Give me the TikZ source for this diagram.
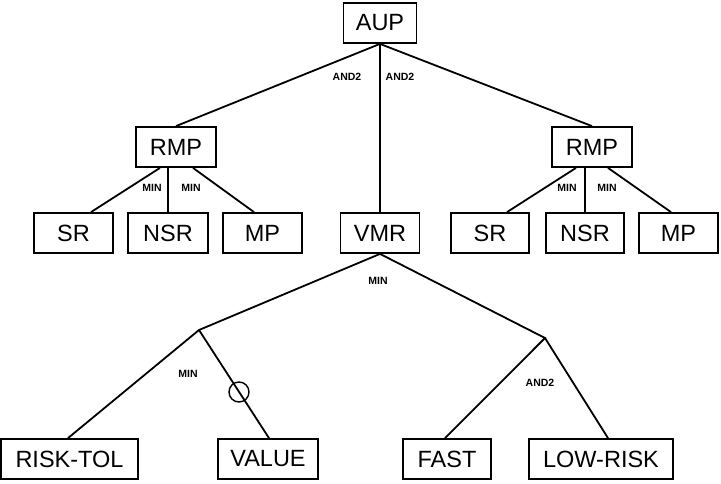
\documentclass[tikz,border=0pt]{standalone}
\usepackage{fontspec}
\setmainfont{Liberation Sans}
\begin{document}
\begin{tikzpicture}[x=1pt,y=-1pt,line width=1.8pt,
  box/.style={draw,minimum height=40pt,inner sep=0pt,font=\fontsize{23.5}{26}\selectfont},
  tag/.style={inner sep=0pt,font=\fontsize{10.5}{11}\selectfont\bfseries}]
  \useasboundingbox (0,0) rectangle (721,483);
  \node[box,minimum width=73pt] (aup) at (380,23) {AUP};
  \node[box,minimum width=80pt] (rmpL) at (176,147) {RMP};
  \node[box,minimum width=80pt] (rmpR) at (592,147) {RMP};
  \node[box,minimum width=79pt] (srL) at (73.5,233) {SR};
  \node[box,minimum width=80pt] (nsrL) at (168,233) {NSR};
  \node[box,minimum width=79pt] (mpL) at (262.5,233) {MP};
  \node[box,minimum width=79pt] (vmr) at (380,233) {VMR};
  \node[box,minimum width=78pt] (srR) at (490,233) {SR};
  \node[box,minimum width=78pt] (nsrR) at (585,233) {NSR};
  \node[box,minimum width=79pt] (mpR) at (678.5,233) {MP};
  \node[box,minimum width=137pt] (risktol) at (69.5,459) {RISK-TOL};
  \node[box,minimum width=100pt] (value) at (268,459) {VALUE};
  \node[box,minimum width=88pt] (fast) at (447,459) {FAST};
  \node[box,minimum width=144pt] (lowrisk) at (601,459) {LOW-RISK};
  \coordinate (jL) at (199,330);
  \coordinate (jR) at (545,338);
  \draw (aup.south) -- (rmpL.north);
  \draw (aup.south) -- (vmr.north);
  \draw (aup.south) -- (rmpR.north);
  \draw ([xshift=-16pt]rmpL.south) -- ([xshift=17.5pt]srL.north);
  \draw (rmpL.south -| nsrL.north) -- (nsrL.north);
  \draw ([xshift=17pt]rmpL.south) -- ([xshift=-8.5pt]mpL.north);
  \draw ([xshift=-16pt]rmpR.south) -- ([xshift=17pt]srR.north);
  \draw (rmpR.south -| nsrR.north) -- (nsrR.north);
  \draw ([xshift=16pt]rmpR.south) -- ([xshift=-7.5pt]mpR.north);
  \draw (vmr.south) -- (jL) -- ([xshift=-1.5pt]risktol.north);
  \draw (jL) -- ([xshift=1pt]value.north);
  \draw (vmr.south) -- (jR) -- ([xshift=-2pt]fast.north);
  \draw (jR) -- ([xshift=7pt]lowrisk.north);
  \draw[line width=1.4pt] (239,392) circle (10);
  \node[tag] (andL) at (347,77) {AND2};
  \node[tag] (andR) at (400,77) {AND2};
  \node[tag] (minA) at (152,188) {MIN};
  \node[tag] (minB) at (191,188) {MIN};
  \node[tag] (minC) at (567,188) {MIN};
  \node[tag] (minD) at (607,188) {MIN};
  \node[tag] (minE) at (378,281) {MIN};
  \node[tag] (minF) at (188,374) {MIN};
  \node[tag] (andB) at (540,383) {AND2};
\end{tikzpicture}
\end{document}
